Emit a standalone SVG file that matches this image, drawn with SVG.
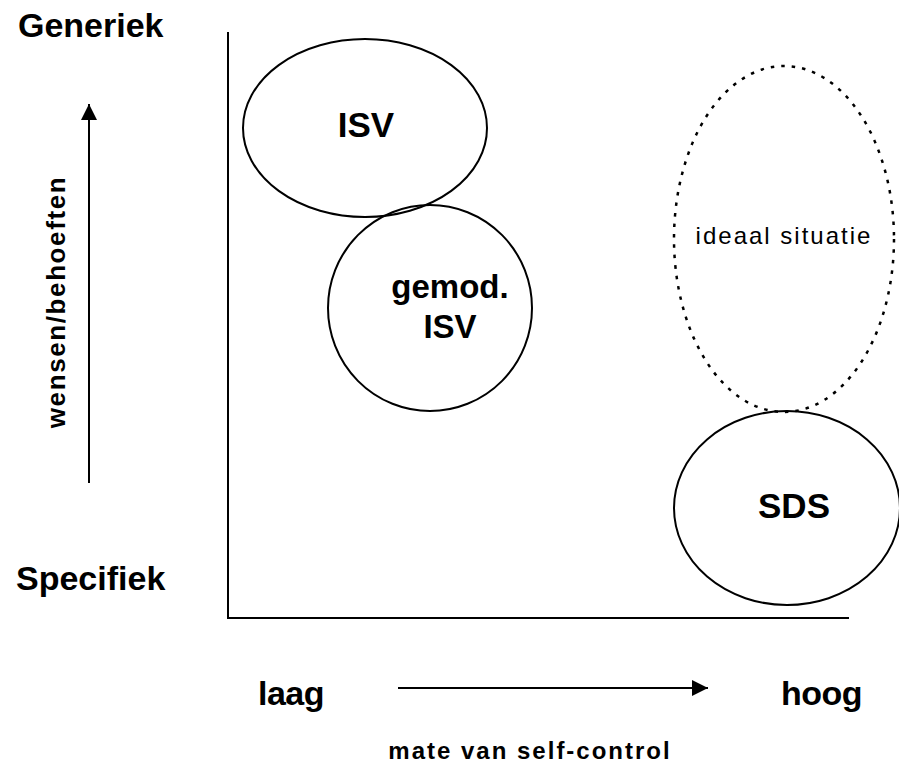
<svg xmlns="http://www.w3.org/2000/svg" width="899" height="764" viewBox="0 0 899 764">
<style>
.b{font-family:"Liberation Sans",Arial,sans-serif;font-weight:bold;fill:#000}
.r{font-family:"Liberation Sans",Arial,sans-serif;fill:#000}
.ln{stroke:#000;stroke-width:2;fill:none}
.el{stroke:#000;stroke-width:2;fill:none}
.dot{stroke:#000;stroke-width:2.5;fill:none;stroke-dasharray:3.5 7}
</style>
<defs>
<marker id="ah2" viewBox="0 0 10 10" refX="10" refY="5" markerWidth="24" markerHeight="16" markerUnits="userSpaceOnUse" orient="auto">
<path d="M0,0 L10,5 L0,10 z" fill="#000"/>
</marker>
</defs>
<rect width="899" height="764" fill="#fff"/>
<g id="connectors">
<path class="ln" d="M228,32 L228,618 L849,618"/>
<path class="ln" d="M89,483 L89,104" marker-end="url(#ah2)"/>
<path class="ln" d="M398,688 L708,688" marker-end="url(#ah2)"/>
</g>
<g id="labels">
<text class="b" x="18" y="37" font-size="34">Generiek</text>
<text class="b" x="16" y="590" font-size="34">Specifiek</text>
<text class="b" font-size="26" letter-spacing="1.6" text-anchor="middle" transform="translate(65,302) rotate(-90)">wensen/behoeften</text>
<text class="b" x="258" y="705" font-size="34" letter-spacing="-0.5">laag</text>
<text class="b" x="862" y="705" font-size="34" letter-spacing="-0.5" text-anchor="end">hoog</text>
<text class="b" x="530" y="759" font-size="24" letter-spacing="2" text-anchor="middle">mate van self-control</text>
</g>
<g id="isv">
<ellipse class="el" cx="365" cy="128" rx="122" ry="89"/>
<text class="b" x="366" y="137" font-size="35" text-anchor="middle">ISV</text>
</g>
<g id="gemod">
<ellipse class="el" cx="430" cy="308" rx="102" ry="103"/>
<text class="b" x="450" y="298" font-size="33" text-anchor="middle">gemod.</text>
<text class="b" x="450" y="338" font-size="33" text-anchor="middle">ISV</text>
</g>
<g id="ideaal">
<ellipse class="dot" cx="784" cy="239" rx="110" ry="173"/>
<text class="r" x="784" y="244" font-size="24" letter-spacing="2" text-anchor="middle">ideaal situatie</text>
</g>
<g id="sds">
<ellipse class="el" cx="787" cy="508" rx="113" ry="97"/>
<text class="b" x="794" y="518" font-size="35" text-anchor="middle">SDS</text>
</g>
</svg>
